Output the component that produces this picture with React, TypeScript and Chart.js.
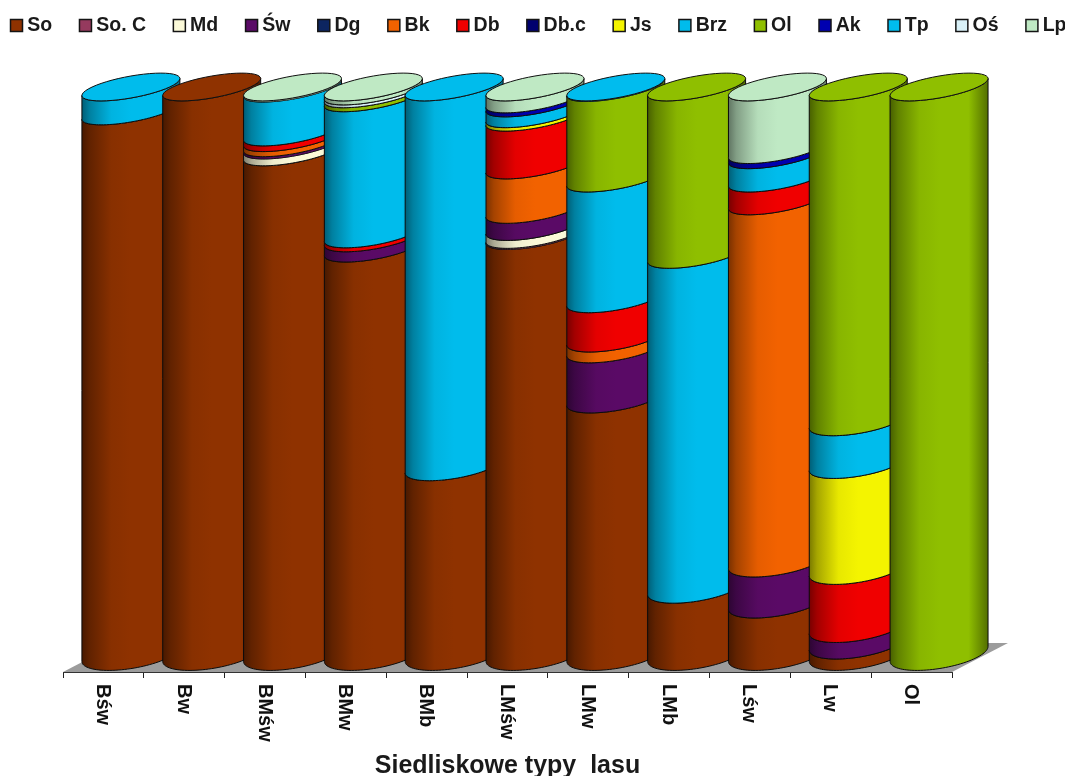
import React, { useEffect, useRef } from "react";
import { Chart, registerables } from "chart.js";

Chart.register(...registerables);

const categories = ["Bśw", "Bw", "BMśw", "BMw", "BMb", "LMśw", "LMw", "LMb", "Lśw", "Lw", "Ol"];
const axisTitle = "Siedliskowe typy  lasu";

const So = [95.8, 100, 88.6, 71.7, 33.3, 73.9, 45.2, 11.8, 9.2, 2, 0];
const SoC = [0, 0, 0, 0, 0, 0.2, 0, 0, 0, 0, 0];
const Md = [0, 0, 1.2, 0, 0, 1.4, 0, 0, 0, 0, 0];
const Sw = [0, 0, 0.4, 1.8, 0, 3.0, 8.8, 0, 7.2, 2.9, 0];
const Dg = [0, 0, 0, 0, 0, 0, 0, 0, 0, 0, 0];
const Bk = [0, 0, 0.9, 0, 0, 7.8, 1.9, 0, 63.6, 0, 0];
const Db = [0, 0, 1.0, 0.7, 0, 8.4, 6.9, 0, 4.0, 10.2, 0];
const Dbc = [0, 0, 0, 0, 0, 0, 0, 0, 0, 0, 0];
const Js = [0, 0, 0, 0, 0, 0.6, 0, 0, 0, 18.6, 0];
const Brz = [4.2, 0, 7.7, 23.9, 66.7, 1.9, 21.2, 58.8, 4.1, 7.5, 0];
const Ol = [0, 0, 0, 0.7, 0, 0, 15.9, 29.4, 0, 58.8, 100];
const Ak = [0, 0, 0, 0, 0, 0.7, 0, 0, 0.9, 0, 0];
const Tp = [0, 0, 0, 0, 0, 0, 0.1, 0, 0, 0, 0];
const Os = [0, 0, 0, 0.5, 0, 0, 0, 0, 0, 0, 0];
const Lp = [0, 0, 0.2, 0.7, 0, 2.1, 0, 0, 11, 0, 0];

const seriesNames = ["So", "So. C", "Md", "Św", "Dg", "Bk", "Db", "Db.c", "Js", "Brz", "Ol", "Ak", "Tp", "Oś", "Lp"];
const seriesValues = [So, SoC, Md, Sw, Dg, Bk, Db, Dbc, Js, Brz, Ol, Ak, Tp, Os, Lp];
const seriesColors = [
  "#8f3200", "#953a5e", "#fbf9d8", "#5a0a66", "#0c2560", "#f26200", "#f00000", "#00006e",
  "#f4f400", "#00bcec", "#8fbf00", "#0000b0", "#00bcee", "#d9f1f8", "#bfe9c4",
];

const FONT = '"Liberation Sans", Arial, sans-serif';

function shade(hex: string, f: number) {
  const n = parseInt(hex.slice(1), 16);
  const c = (v: number) => Math.round(Math.min(255, v * f));
  return `rgb(${c((n >> 16) & 255)},${c((n >> 8) & 255)},${c(n & 255)})`;
}

const cylinderPlugin = {
  id: "cylinders",
  beforeLayout(chart: any) {
    const legend = chart.legend;
    if (legend && !legend._fitPatched) {
      const fit = legend.fit;
      legend._fitPatched = true;
      legend.fit = function () {
        this.maxWidth = 1400;
        fit.call(this);
        this.width = 1065;
        this.height = 121.5;
      };
    }
  },
  afterLayout(chart: any) {
    if (chart.legend) {
      chart.legend.left = -23;
      chart.legend.right = 1105;
    }
  },
  beforeDatasetsDraw(chart: any) {
    const { ctx, chartArea, data } = chart;
    const { left, right, top, bottom } = chartArea;
    const depthX = 56;
    const depthY = 29;
    ctx.save();
    ctx.fillStyle = "#9c9c9c";
    ctx.beginPath();
    ctx.moveTo(left, bottom);
    ctx.lineTo(right, bottom);
    ctx.lineTo(right + depthX, bottom - depthY);
    ctx.lineTo(left + depthX, bottom - depthY);
    ctx.closePath();
    ctx.fill();

    const metas = data.datasets.map((_: any, i: number) => chart.getDatasetMeta(i));
    const lift = 18;
    categories.forEach((_, idx) => {
      const first = metas[0].data[idx];
      const w = first.width;
      const a = w * 0.606;
      const cx = first.x + w * 0.34;
      const arc = (cy: number, from: number, to: number, start: boolean) => {
        const depth = (cy + lift - top) / (bottom - top);
        const s = 8.5 - depth;
        const c = 11 + 3.6 * depth;
        const steps = 48;
        for (let k = 0; k <= steps; k++) {
          const t = from + ((to - from) * k) / steps;
          const x = cx + a * Math.cos(t);
          const y = cy - s * Math.cos(t) + c * Math.sin(t);
          if (k === 0 && start) ctx.moveTo(x, y);
          else ctx.lineTo(x, y);
        }
      };
      let topColor = seriesColors[0];
      let topY = first.y - lift;
      metas.forEach((meta: any, d: number) => {
        const value = data.datasets[d].data[idx];
        if (!value) return;
        const el = meta.data[idx];
        const color = seriesColors[d];
        const y0 = el.base - lift;
        const y1 = el.y - lift;
        const g = ctx.createLinearGradient(cx - a, 0, cx + a, 0);
        g.addColorStop(0, shade(color, 0.5));
        g.addColorStop(0.08, shade(color, 0.68));
        g.addColorStop(0.3, shade(color, 0.95));
        g.addColorStop(0.5, shade(color, 1));
        g.addColorStop(0.8, shade(color, 1));
        g.addColorStop(1, shade(color, 0.58));
        ctx.beginPath();
        arc(y0, Math.PI, 0, true);
        arc(y1, 0, Math.PI, false);
        ctx.closePath();
        ctx.fillStyle = g;
        ctx.fill();
        ctx.lineWidth = value < 0.5 ? 0.6 : 1;
        ctx.strokeStyle = "#0b0b0b";
        ctx.stroke();
        topColor = color;
        topY = y1;
      });
      ctx.beginPath();
      arc(topY, 0, Math.PI * 2, true);
      ctx.closePath();
      ctx.fillStyle = topColor;
      ctx.fill();
      ctx.lineWidth = 1;
      ctx.strokeStyle = "#101010";
      ctx.stroke();
    });
    ctx.restore();
    return false;
  },
  afterDraw(chart: any) {
    const { ctx, scales } = chart;
    const x = scales.x;
    ctx.save();
    ctx.fillStyle = "#111";
    ctx.font = `bold 20px ${FONT}`;
    ctx.textAlign = "left";
    ctx.textBaseline = "middle";
    categories.forEach((label, i) => {
      ctx.save();
      ctx.translate(x.getPixelForValue(i) - 1, x.top + 12);
      ctx.rotate(Math.PI / 2);
      ctx.fillText(label, 0, 0);
      ctx.restore();
    });
    ctx.restore();
  },
};

export default function App() {
  const ref = useRef<HTMLCanvasElement>(null);
  useEffect(() => {
    const chart = new Chart(ref.current!, {
      type: "bar",
      data: {
        labels: categories,
        datasets: seriesNames.map((label, i) => ({
          label,
          data: seriesValues[i],
          backgroundColor: seriesColors[i],
          borderColor: "#141414",
          borderWidth: 1.5,
          barPercentage: 1,
          categoryPercentage: 1,
        })),
      },
      options: {
        responsive: false,
        animation: false,
        layout: { padding: { left: 0, right: 0, top: -16.5, bottom: 0 } },
        plugins: {
          legend: {
            position: "top",
            labels: {
              usePointStyle: true,
              pointStyle: "rect",
              boxWidth: 2,
              boxHeight: 12,
              padding: 32.3,
              color: "#1a1a1a",
              font: { family: FONT, size: 19.5, weight: "bold" },
            },
          },
          tooltip: { enabled: false },
        },
        scales: {
          x: {
            stacked: true,
            afterFit(scale: any) {
              scale.height = 104;
            },
            grid: {
              drawOnChartArea: false,
              drawTicks: true,
              tickLength: 6,
              color: "#222",
            },
            border: { color: "#333", width: 1 },
            ticks: { display: false },
            title: {
              display: true,
              text: axisTitle,
              color: "#1a1a1a",
              font: { family: FONT, size: 25, weight: "bold", lineHeight: 1 },
              padding: { top: 0, bottom: -3 },
            },
          },
          y: {
            stacked: true,
            min: 0,
            max: 100,
            afterFit(scale: any) {
              scale.width = 63;
            },
            grid: { display: false },
            border: { display: false },
            ticks: { display: false },
          },
          yRight: {
            position: "right",
            min: 0,
            max: 100,
            afterFit(scale: any) {
              scale.width = 113;
            },
            grid: { display: false },
            border: { display: false },
            ticks: { display: false },
          },
        },
      },
      plugins: [cylinderPlugin],
    } as any);
    return () => chart.destroy();
  }, []);
  return (
    <canvas
      ref={ref}
      width={1065}
      height={776}
      style={{ position: "absolute", left: 0, top: 0, display: "block" }}
    />
  );
}
